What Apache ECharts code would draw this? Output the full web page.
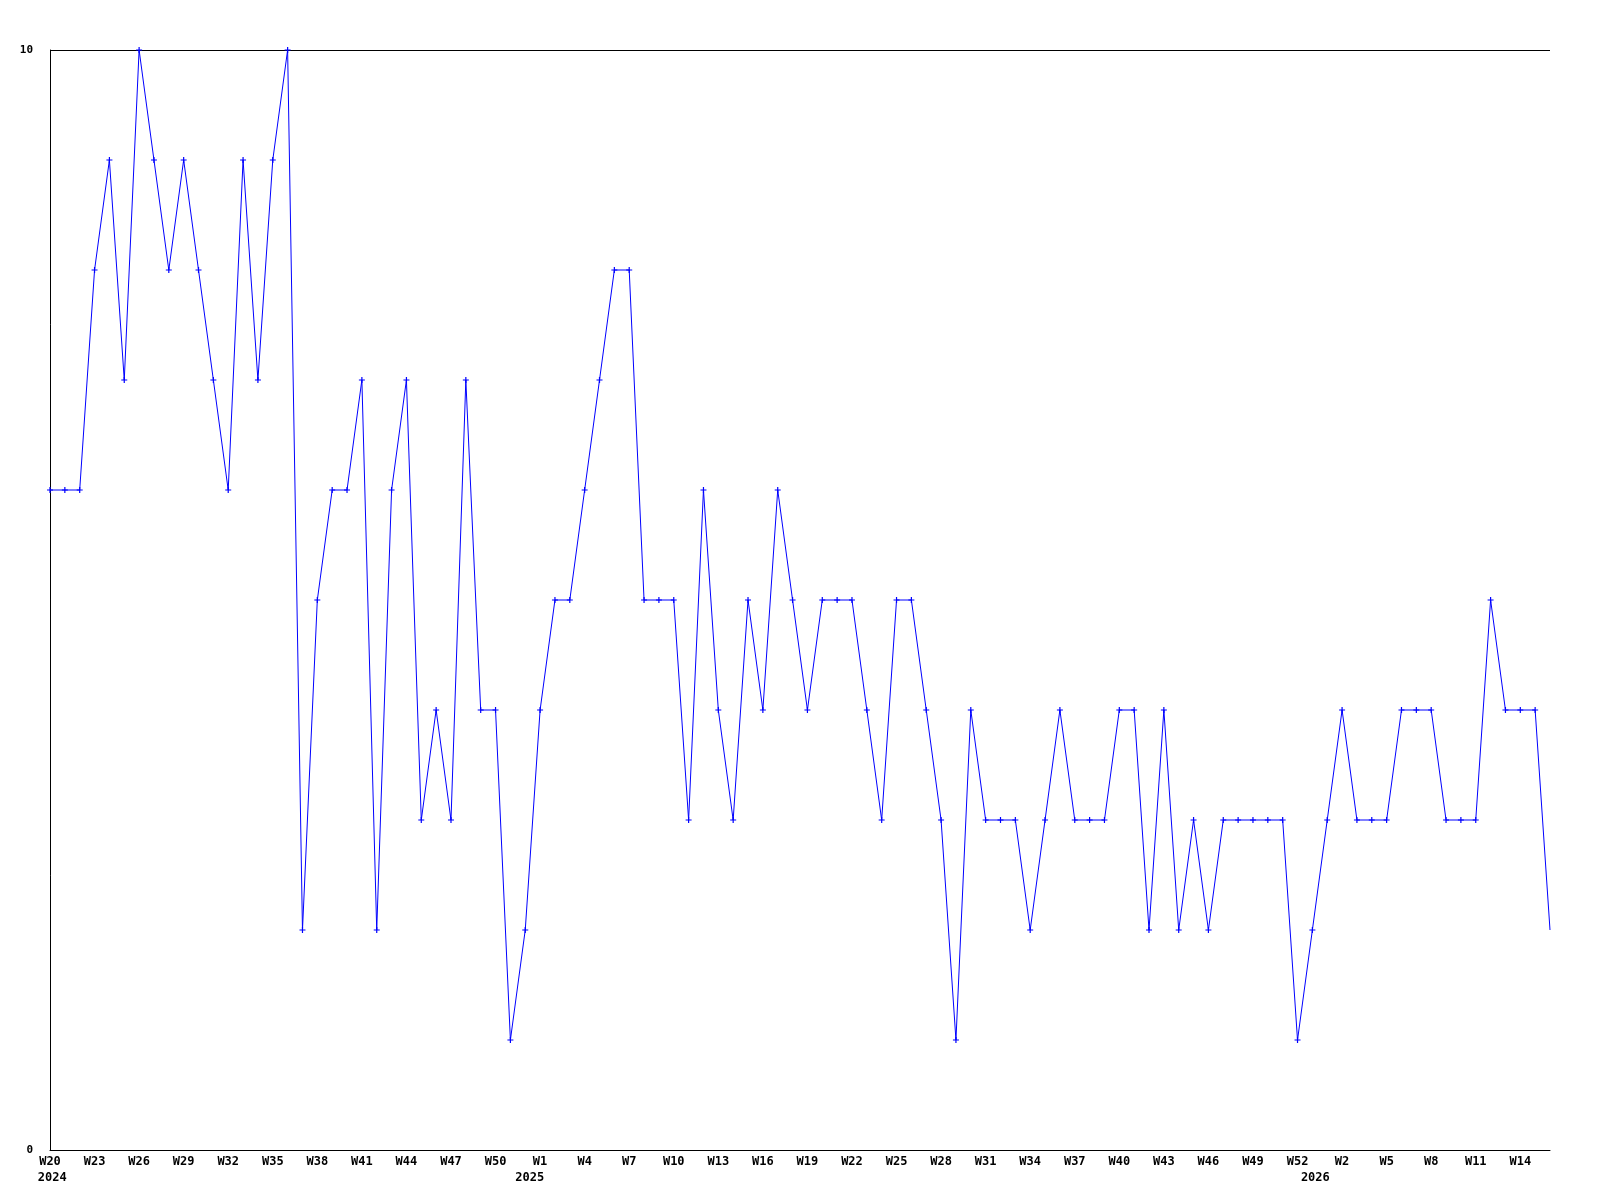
<!DOCTYPE html>
<html>
<head>
<meta charset="utf-8">
<script src="https://cdn.jsdelivr.net/npm/echarts@6/dist/echarts.min.js"></script>
<style>
  html, body { margin: 0; padding: 0; background: #fff; }
  #chart { width: 1600px; height: 1200px; }
</style>
</head>
<body>
<div id="chart"></div>
<script>
// week labels, one per point (2024 W20 .. 2026 W16)
const weeks = [
  'W20','W21','W22','W23','W24','W25','W26','W27','W28','W29','W30','W31','W32','W33','W34','W35','W36',
  'W37','W38','W39','W40','W41','W42','W43','W44','W45','W46','W47','W48','W49','W50','W51','W52',
  'W1','W2','W3','W4','W5','W6','W7','W8','W9','W10','W11','W12','W13','W14','W15','W16','W17','W18',
  'W19','W20','W21','W22','W23','W24','W25','W26','W27','W28','W29','W30','W31','W32','W33','W34','W35',
  'W36','W37','W38','W39','W40','W41','W42','W43','W44','W45','W46','W47','W48','W49','W50','W51','W52',
  'W0','W1','W2','W3','W4','W5','W6','W7','W8','W9','W10','W11','W12','W13','W14','W15','W16'
];
// year labels and where they sit along the point index
const years = ['2024', '2025', '2026'];
const yearAt = [0.15, 32.3, 85.2];

const values = [
  6, 6, 6, 8, 9, 7, 10, 9, 8, 9,
  8, 7, 6, 9, 7, 9, 10, 2, 5, 6,
  6, 7, 2, 6, 7, 3, 4, 3, 7, 4,
  4, 1, 2, 4, 5, 5, 6, 7, 8, 8,
  5, 5, 5, 3, 6, 4, 3, 5, 4, 6,
  5, 4, 5, 5, 5, 4, 3, 5, 5, 4,
  3, 1, 4, 3, 3, 3, 2, 3, 4, 3,
  3, 3, 4, 4, 2, 4, 2, 3, 2, 3,
  3, 3, 3, 3, 1, 2, 3, 4, 3, 3,
  3, 4, 4, 4, 3, 3, 3, 5, 4, 4,
  4, 2
];

const yMin = 0;
const yMax = 10;

const font = '"DejaVu Sans Mono", monospace';
const labelStyle = {
  color: '#000',
  fontFamily: font,
  fontWeight: 'bold',
  fontSize: 12
};

function yearFor(v) {
  let best = -1, bestD = Infinity;
  yearAt.forEach((p, i) => {
    const d = Math.abs(p - v);
    if (d < bestD) { bestD = d; best = i; }
  });
  return bestD < 0.5 ? years[best] : '';
}

const chart = echarts.init(document.getElementById('chart'));

const option = {
  animation: false,
  backgroundColor: '#fff',
  grid: { left: 50, right: 50, top: 50, bottom: 50, containLabel: false },
  xAxis: [
    {
      type: 'category',
      data: weeks,
      boundaryGap: false,
      axisLine: { show: true, lineStyle: { color: '#000', width: 1 } },
      axisTick: { show: false },
      splitLine: { show: false },
      axisLabel: Object.assign({
        interval: 2,
        margin: 6,
        verticalAlign: 'top'
      }, labelStyle)
    },
    {
      type: 'value',
      position: 'bottom',
      min: 0,
      max: weeks.length - 1,
      axisLine: { show: false },
      axisTick: { show: false },
      splitLine: { show: false },
      axisLabel: Object.assign({
        customValues: yearAt,
        formatter: (v) => yearFor(v),
        margin: 22,
        verticalAlign: 'top',
        hideOverlap: false
      }, labelStyle)
    }
  ],
  yAxis: {
    type: 'value',
    min: yMin,
    max: yMax,
    interval: 10,
    axisLine: { show: true, lineStyle: { color: '#000', width: 1 } },
    axisTick: { show: false },
    splitLine: { show: true, lineStyle: { color: '#000', width: 1 } },
    axisLabel: Object.assign({ margin: 17 }, labelStyle, { fontSize: 11 })
  },
  series: [
    {
      type: 'line',
      xAxisIndex: 0,
      data: values.map((v, i) => i === values.length - 1 ? { value: v, symbol: 'none' } : v),
      symbol: 'path://M2,0H3V2H5V3H3V5H2V3H0V2H2Z',
      symbolSize: 6,
      showAllSymbol: true,
      lineStyle: { color: '#0000ff', width: 1 },
      itemStyle: { color: '#0000ff' }
    }
  ]
};

chart.setOption(option);
</script>
</body>
</html>
